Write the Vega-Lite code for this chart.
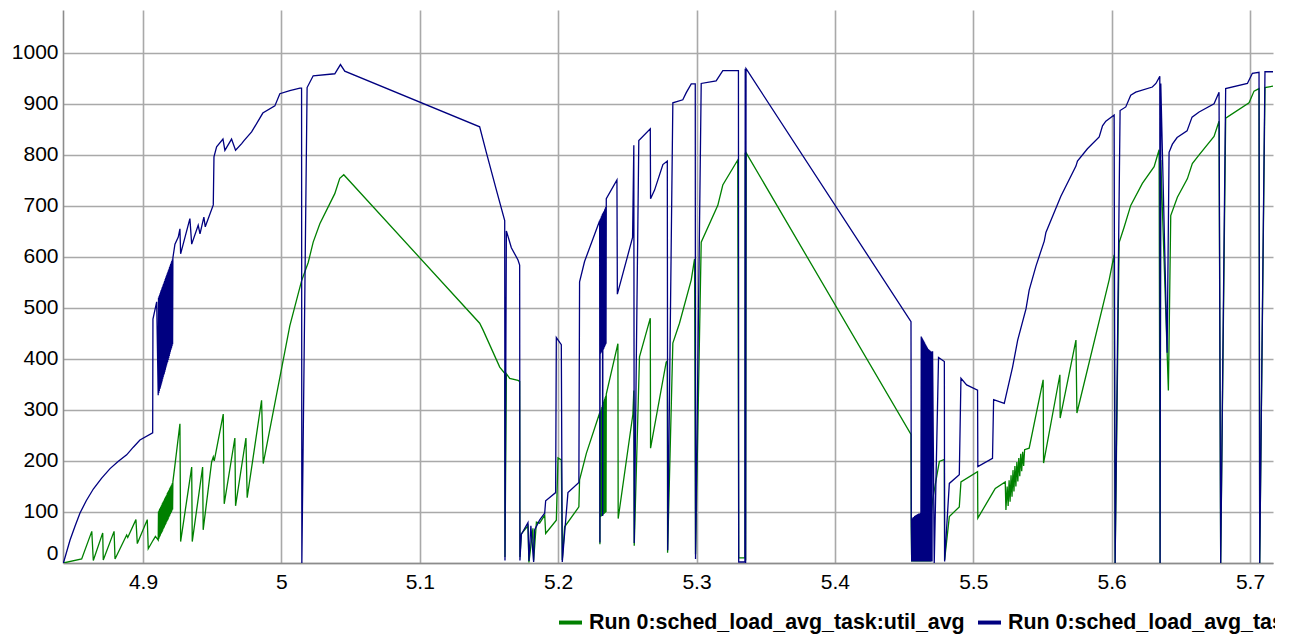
{
"$schema": "https://vega.github.io/schema/vega-lite/v6.json",
"width": 1210, "height": 553,
"autosize": "none",
"padding": {"left": 63, "top": 10, "right": 2, "bottom": 74},
"background": "white",
"config": {
 "view": {"stroke": null},
 "axis": {"labelFont": "Liberation Sans", "labelFontSize": 21, "labelColor": "#000", "gridColor": "#a9a9a9", "gridWidth": 1.6, "gridOpacity": 1, "domainColor": "#8c8c8c", "domainWidth": 1.6, "ticks": false, "title": null},
 "legend": {"orient": "none", "legendX": 494, "legendY": 599, "direction": "horizontal", "symbolType": "stroke", "symbolSize": 529, "symbolStrokeWidth": 4, "symbolOpacity": 1, "labelFont": "Liberation Sans", "labelFontWeight": "bold", "labelFontSize": 21.4, "labelColor": "#000", "labelLimit": 1000, "title": null, "columnPadding": 5, "labelOffset": 5, "padding": 0}
},
"datasets": {
 "util": [
{"x":4.8425,"v":0},{"x":4.8557,"v":8},{"x":4.8630,"v":62},{"x":4.8641,"v":5},{"x":4.8709,"v":59},{"x":4.8713,"v":6},{"x":4.8791,"v":62},{"x":4.8798,"v":8},{"x":4.8882,"v":55},{"x":4.8890,"v":50},{"x":4.8949,"v":85},{"x":4.8959,"v":38},{"x":4.9031,"v":85},{"x":4.9038,"v":28},{"x":4.9074,"v":45},{"x":4.9090,"v":52},
{"x":4.9110,"v":45},{"x":4.9112,"v":101},{"x":4.9114,"v":47},{"x":4.9116,"v":103},{"x":4.9118,"v":50},{"x":4.9120,"v":106},{"x":4.9122,"v":52},{"x":4.9124,"v":108},{"x":4.9126,"v":54},{"x":4.9128,"v":110},{"x":4.9130,"v":57},{"x":4.9132,"v":112},{"x":4.9134,"v":59},{"x":4.9136,"v":114},{"x":4.9138,"v":61},{"x":4.9140,"v":117},{"x":4.9142,"v":63},{"x":4.9144,"v":119},{"x":4.9146,"v":66},{"x":4.9148,"v":121},{"x":4.9150,"v":68},{"x":4.9152,"v":123},{"x":4.9154,"v":70},{"x":4.9156,"v":126},{"x":4.9158,"v":73},{"x":4.9160,"v":128},{"x":4.9162,"v":75},{"x":4.9164,"v":130},{"x":4.9166,"v":77},{"x":4.9168,"v":132},{"x":4.9170,"v":80},{"x":4.9172,"v":134},{"x":4.9174,"v":82},{"x":4.9176,"v":137},{"x":4.9178,"v":84},{"x":4.9180,"v":139},{"x":4.9182,"v":86},{"x":4.9184,"v":141},{"x":4.9186,"v":89},{"x":4.9188,"v":143},{"x":4.9190,"v":91},{"x":4.9192,"v":146},{"x":4.9194,"v":93},{"x":4.9196,"v":148},{"x":4.9198,"v":96},{"x":4.9200,"v":150},{"x":4.9202,"v":98},{"x":4.9204,"v":152},{"x":4.9206,"v":100},{"x":4.9208,"v":154},{"x":4.9210,"v":103},{"x":4.9212,"v":157},{"x":4.9214,"v":105},{"x":4.9216,"v":159},
{"x":4.9231,"v":192},{"x":4.9267,"v":273},{"x":4.9272,"v":42},{"x":4.9352,"v":188},{"x":4.9356,"v":42},{"x":4.9431,"v":188},{"x":4.9435,"v":65},{"x":4.9496,"v":198},{"x":4.9508,"v":208},{"x":4.9515,"v":200},{"x":4.9580,"v":292},{"x":4.9587,"v":116},{"x":4.9664,"v":245},{"x":4.9669,"v":112},{"x":4.9744,"v":245},{"x":4.9753,"v":128},{"x":4.9857,"v":319},{"x":4.9869,"v":195},
{"x":5.0061,"v":465},{"x":5.0146,"v":553},{"x":5.0194,"v":589},{"x":5.0230,"v":629},{"x":5.0278,"v":665},{"x":5.0386,"v":724},{"x":5.0422,"v":754},{"x":5.0451,"v":761},{"x":5.1433,"v":470},{"x":5.1457,"v":457},{"x":5.1578,"v":384},{"x":5.1614,"v":372},{"x":5.1616,"v":12},{"x":5.1626,"v":371},{"x":5.1650,"v":362},{"x":5.1710,"v":358},{"x":5.1722,"v":356},{"x":5.1724,"v":12},
{"x":5.1734,"v":57},{"x":5.1782,"v":73},{"x":5.1789,"v":1},{"x":5.1818,"v":68},{"x":5.1823,"v":5},{"x":5.1843,"v":80},{"x":5.1866,"v":78},{"x":5.1903,"v":94},{"x":5.1910,"v":58},{"x":5.1987,"v":84},{"x":5.1999,"v":206},{"x":5.2023,"v":202},{"x":5.2030,"v":6},{"x":5.2047,"v":71},{"x":5.2150,"v":110},{"x":5.2155,"v":163},{"x":5.2204,"v":215},{"x":5.2300,"v":294},
{"x":5.2302,"v":37},{"x":5.2304,"v":297},{"x":5.2306,"v":90},{"x":5.2308,"v":300},{"x":5.2310,"v":91},{"x":5.2312,"v":303},{"x":5.2314,"v":92},{"x":5.2316,"v":306},{"x":5.2318,"v":93},{"x":5.2320,"v":309},{"x":5.2322,"v":94},{"x":5.2324,"v":312},{"x":5.2326,"v":95},{"x":5.2328,"v":316},{"x":5.2330,"v":96},{"x":5.2332,"v":319},{"x":5.2334,"v":97},{"x":5.2336,"v":322},{"x":5.2338,"v":98},{"x":5.2340,"v":325},{"x":5.2342,"v":99},{"x":5.2344,"v":328},{"x":5.2346,"v":100},{"x":5.2348,"v":331},
{"x":5.2432,"v":430},{"x":5.2434,"v":87},{"x":5.2540,"v":291},{"x":5.2547,"v":338},{"x":5.2550,"v":34},{"x":5.2588,"v":404},{"x":5.2666,"v":480},{"x":5.2668,"v":225},{"x":5.2781,"v":394},{"x":5.2789,"v":396},{"x":5.2791,"v":20},{"x":5.2829,"v":431},{"x":5.2877,"v":470},{"x":5.2962,"v":555},{"x":5.2986,"v":596},{"x":5.2993,"v":17},{"x":5.3034,"v":629},{"x":5.3154,"v":701},{"x":5.3190,"v":741},{"x":5.3298,"v":790},{"x":5.3305,"v":10},{"x":5.3350,"v":10},{"x":5.3352,"v":804},{"x":5.3355,"v":5},{"x":5.3359,"v":804},
{"x":5.4550,"v":252},{"x":5.4552,"v":70},{"x":5.4555,"v":3},{"x":5.4558,"v":72},{"x":5.4561,"v":3},{"x":5.4564,"v":73},{"x":5.4567,"v":3},{"x":5.4570,"v":74},{"x":5.4573,"v":3},{"x":5.4576,"v":75},{"x":5.4579,"v":3},{"x":5.4582,"v":76},{"x":5.4585,"v":3},{"x":5.4588,"v":77},{"x":5.4591,"v":3},{"x":5.4594,"v":77},{"x":5.4597,"v":3},{"x":5.4600,"v":78},{"x":5.4603,"v":3},{"x":5.4606,"v":79},{"x":5.4609,"v":3},{"x":5.4612,"v":79},{"x":5.4615,"v":3},{"x":5.4618,"v":80},{"x":5.4621,"v":3},{"x":5.4624,"v":82},{"x":5.4628,"v":3},{"x":5.4632,"v":83},{"x":5.4636,"v":3},{"x":5.4640,"v":85},{"x":5.4644,"v":3},{"x":5.4648,"v":86},{"x":5.4652,"v":3},{"x":5.4656,"v":87},{"x":5.4660,"v":3},{"x":5.4664,"v":89},{"x":5.4668,"v":3},{"x":5.4672,"v":90},{"x":5.4676,"v":3},{"x":5.4680,"v":91},{"x":5.4684,"v":3},{"x":5.4688,"v":93},{"x":5.4692,"v":3},{"x":5.4696,"v":95},
{"x":5.4706,"v":124},{"x":5.4755,"v":199},{"x":5.4791,"v":203},{"x":5.4793,"v":6},{"x":5.4827,"v":91},{"x":5.4899,"v":110},{"x":5.4911,"v":159},{"x":5.5031,"v":179},{"x":5.5033,"v":88},{"x":5.5139,"v":137},{"x":5.5159,"v":146},{"x":5.5231,"v":159},{"x":5.5236,"v":104},
{"x":5.5245,"v":150},{"x":5.5252,"v":112},{"x":5.5259,"v":162},{"x":5.5266,"v":120},{"x":5.5273,"v":172},{"x":5.5280,"v":130},{"x":5.5287,"v":182},{"x":5.5294,"v":140},{"x":5.5301,"v":190},{"x":5.5308,"v":150},{"x":5.5315,"v":198},{"x":5.5322,"v":160},{"x":5.5329,"v":206},{"x":5.5336,"v":170},{"x":5.5343,"v":214},{"x":5.5350,"v":180},{"x":5.5357,"v":218},{"x":5.5364,"v":190},{"x":5.5371,"v":222},{"x":5.5404,"v":225},
{"x":5.5505,"v":359},{"x":5.5508,"v":196},{"x":5.5626,"v":369},{"x":5.5628,"v":284},{"x":5.5742,"v":437},{"x":5.5749,"v":294},{"x":5.5982,"v":555},{"x":5.6018,"v":604},{"x":5.6025,"v":0},{"x":5.6054,"v":628},{"x":5.6090,"v":658},{"x":5.6138,"v":701},{"x":5.6222,"v":744},{"x":5.6307,"v":777},{"x":5.6343,"v":810},{"x":5.6350,"v":0},{"x":5.6355,"v":790},{"x":5.6410,"v":338},{"x":5.6427,"v":681},{"x":5.6475,"v":717},{"x":5.6547,"v":753},{"x":5.6583,"v":783},{"x":5.6632,"v":800},{"x":5.6740,"v":836},{"x":5.6776,"v":866},{"x":5.6788,"v":0},{"x":5.6824,"v":872},{"x":5.6993,"v":902},{"x":5.7029,"v":925},{"x":5.7065,"v":930},{"x":5.7070,"v":0},{"x":5.7108,"v":932},{"x":5.7170,"v":935}
 ],
 "load": [
{"x":4.8425,"v":0},{"x":4.8473,"v":45},{"x":4.8510,"v":73},{"x":4.8545,"v":98},{"x":4.8590,"v":122},{"x":4.8641,"v":145},{"x":4.8700,"v":166},{"x":4.8762,"v":185},{"x":4.8820,"v":199},{"x":4.8882,"v":212},{"x":4.8930,"v":227},{"x":4.8978,"v":241},{"x":4.9070,"v":255},{"x":4.9072,"v":478},{"x":4.9099,"v":512},
{"x":4.9110,"v":329},{"x":4.9112,"v":520},{"x":4.9114,"v":333},{"x":4.9116,"v":523},{"x":4.9118,"v":337},{"x":4.9120,"v":526},{"x":4.9122,"v":341},{"x":4.9124,"v":529},{"x":4.9126,"v":344},{"x":4.9128,"v":532},{"x":4.9130,"v":348},{"x":4.9132,"v":535},{"x":4.9134,"v":352},{"x":4.9136,"v":538},{"x":4.9138,"v":356},{"x":4.9140,"v":541},{"x":4.9142,"v":360},{"x":4.9144,"v":544},{"x":4.9146,"v":364},{"x":4.9148,"v":547},{"x":4.9150,"v":368},{"x":4.9152,"v":550},{"x":4.9154,"v":371},{"x":4.9156,"v":553},{"x":4.9158,"v":375},{"x":4.9160,"v":556},{"x":4.9162,"v":379},{"x":4.9164,"v":559},{"x":4.9166,"v":383},{"x":4.9168,"v":562},{"x":4.9170,"v":387},{"x":4.9172,"v":565},{"x":4.9174,"v":391},{"x":4.9176,"v":568},{"x":4.9178,"v":394},{"x":4.9180,"v":571},{"x":4.9182,"v":398},{"x":4.9184,"v":574},{"x":4.9186,"v":402},{"x":4.9188,"v":577},{"x":4.9190,"v":406},{"x":4.9192,"v":580},{"x":4.9194,"v":410},{"x":4.9196,"v":583},{"x":4.9198,"v":414},{"x":4.9200,"v":586},{"x":4.9202,"v":418},{"x":4.9204,"v":589},{"x":4.9206,"v":421},{"x":4.9208,"v":592},{"x":4.9210,"v":425},{"x":4.9212,"v":595},{"x":4.9214,"v":429},{"x":4.9216,"v":598},
{"x":4.9231,"v":625},{"x":4.9255,"v":639},{"x":4.9267,"v":655},{"x":4.9272,"v":606},{"x":4.9339,"v":675},{"x":4.9352,"v":625},{"x":4.9399,"v":662},{"x":4.9412,"v":645},{"x":4.9440,"v":678},{"x":4.9450,"v":659},{"x":4.9508,"v":702},{"x":4.9513,"v":796},{"x":4.9532,"v":816},{"x":4.9578,"v":831},{"x":4.9592,"v":809},{"x":4.9640,"v":831},{"x":4.9669,"v":809},{"x":4.9713,"v":822},{"x":4.9730,"v":828},{"x":4.9785,"v":845},{"x":4.9866,"v":882},{"x":4.9953,"v":896},{"x":4.9989,"v":920},{"x":5.0061,"v":926},{"x":5.0134,"v":931},{"x":5.0146,"v":931},{"x":5.0148,"v":0},
{"x":5.0186,"v":932},{"x":5.0230,"v":955},{"x":5.0386,"v":959},{"x":5.0427,"v":977},{"x":5.0458,"v":964},{"x":5.1433,"v":855},{"x":5.1481,"v":805},{"x":5.1554,"v":731},{"x":5.1614,"v":671},{"x":5.1616,"v":5},{"x":5.1626,"v":651},{"x":5.1662,"v":618},{"x":5.1710,"v":594},{"x":5.1722,"v":584},{"x":5.1724,"v":5},
{"x":5.1734,"v":56},{"x":5.1782,"v":79},{"x":5.1789,"v":4},{"x":5.1803,"v":73},{"x":5.1823,"v":2},{"x":5.1830,"v":65},{"x":5.1866,"v":84},{"x":5.1903,"v":98},{"x":5.1910,"v":122},{"x":5.1982,"v":138},{"x":5.1987,"v":442},{"x":5.2023,"v":428},{"x":5.2030,"v":2},{"x":5.2071,"v":138},{"x":5.2150,"v":158},{"x":5.2155,"v":551},{"x":5.2191,"v":591},{"x":5.2300,"v":671},
{"x":5.2302,"v":40},{"x":5.2304,"v":674},{"x":5.2306,"v":410},{"x":5.2308,"v":676},{"x":5.2310,"v":412},{"x":5.2312,"v":679},{"x":5.2314,"v":414},{"x":5.2316,"v":681},{"x":5.2318,"v":416},{"x":5.2320,"v":684},{"x":5.2322,"v":92},{"x":5.2324,"v":686},{"x":5.2326,"v":418},{"x":5.2328,"v":688},{"x":5.2330,"v":420},{"x":5.2332,"v":690},{"x":5.2334,"v":423},{"x":5.2336,"v":693},{"x":5.2338,"v":425},{"x":5.2340,"v":695},{"x":5.2342,"v":428},{"x":5.2344,"v":698},{"x":5.2346,"v":430},{"x":5.2348,"v":714},
{"x":5.2425,"v":751},{"x":5.2428,"v":527},{"x":5.2538,"v":638},{"x":5.2547,"v":819},{"x":5.2550,"v":39},{"x":5.2583,"v":828},{"x":5.2666,"v":851},{"x":5.2668,"v":714},{"x":5.2697,"v":731},{"x":5.2757,"v":781},{"x":5.2789,"v":788},{"x":5.2792,"v":25},{"x":5.2829,"v":902},{"x":5.2901,"v":908},{"x":5.2926,"v":922},{"x":5.2962,"v":939},{"x":5.2991,"v":939},{"x":5.2993,"v":8},{"x":5.3034,"v":940},{"x":5.3142,"v":945},{"x":5.3190,"v":965},{"x":5.3303,"v":965},{"x":5.3305,"v":2},{"x":5.3350,"v":2},{"x":5.3352,"v":969},{"x":5.3355,"v":0},{"x":5.3358,"v":969},{"x":5.3363,"v":967},
{"x":5.4550,"v":473},{"x":5.4552,"v":84},{"x":5.4555,"v":3},{"x":5.4558,"v":87},{"x":5.4561,"v":3},{"x":5.4564,"v":89},{"x":5.4567,"v":3},{"x":5.4570,"v":90},{"x":5.4573,"v":3},{"x":5.4576,"v":92},{"x":5.4579,"v":3},{"x":5.4582,"v":93},{"x":5.4585,"v":3},{"x":5.4588,"v":94},{"x":5.4591,"v":3},{"x":5.4594,"v":95},{"x":5.4597,"v":3},{"x":5.4600,"v":96},{"x":5.4603,"v":3},{"x":5.4606,"v":97},{"x":5.4609,"v":3},{"x":5.4612,"v":97},{"x":5.4615,"v":3},{"x":5.4618,"v":98},{"x":5.4621,"v":3},
{"x":5.4624,"v":444},{"x":5.4626,"v":3},{"x":5.4628,"v":442},{"x":5.4630,"v":3},{"x":5.4632,"v":440},{"x":5.4634,"v":3},{"x":5.4636,"v":438},{"x":5.4638,"v":3},{"x":5.4640,"v":436},{"x":5.4642,"v":3},{"x":5.4644,"v":434},{"x":5.4646,"v":3},{"x":5.4648,"v":432},{"x":5.4650,"v":3},{"x":5.4652,"v":430},{"x":5.4654,"v":3},{"x":5.4656,"v":428},{"x":5.4658,"v":3},{"x":5.4660,"v":426},{"x":5.4662,"v":3},{"x":5.4664,"v":424},{"x":5.4666,"v":3},{"x":5.4668,"v":422},{"x":5.4670,"v":3},{"x":5.4672,"v":420},{"x":5.4674,"v":3},{"x":5.4676,"v":419},{"x":5.4678,"v":3},{"x":5.4680,"v":418},{"x":5.4682,"v":3},{"x":5.4684,"v":417},{"x":5.4686,"v":3},{"x":5.4688,"v":416},{"x":5.4690,"v":3},{"x":5.4692,"v":415},{"x":5.4694,"v":3},{"x":5.4696,"v":414},{"x":5.4698,"v":3},{"x":5.4700,"v":414},{"x":5.4702,"v":3},{"x":5.4704,"v":414},{"x":5.4706,"v":414},
{"x":5.4718,"v":0},{"x":5.4749,"v":403},{"x":5.4791,"v":395},{"x":5.4793,"v":3},{"x":5.4827,"v":156},{"x":5.4899,"v":173},{"x":5.4911,"v":362},{"x":5.4952,"v":349},{"x":5.5031,"v":339},{"x":5.5033,"v":189},{"x":5.5139,"v":205},{"x":5.5147,"v":320},{"x":5.5224,"v":313},{"x":5.5236,"v":327},
{"x":5.5284,"v":384},{"x":5.5321,"v":437},{"x":5.5381,"v":498},{"x":5.5404,"v":535},{"x":5.5453,"v":582},{"x":5.5513,"v":631},{"x":5.5525,"v":648},{"x":5.5633,"v":719},{"x":5.5742,"v":778},{"x":5.5753,"v":788},{"x":5.5825,"v":812},{"x":5.5910,"v":835},{"x":5.5934,"v":857},{"x":5.5958,"v":866},{"x":5.6018,"v":878},{"x":5.6025,"v":0},
{"x":5.6061,"v":887},{"x":5.6102,"v":894},{"x":5.6138,"v":917},{"x":5.6174,"v":923},{"x":5.6294,"v":933},{"x":5.6320,"v":940},{"x":5.6348,"v":954},{"x":5.6350,"v":0},{"x":5.6355,"v":940},{"x":5.6401,"v":412},{"x":5.6415,"v":805},{"x":5.6439,"v":821},{"x":5.6473,"v":834},{"x":5.6545,"v":847},{"x":5.6581,"v":874},{"x":5.6632,"v":884},{"x":5.6740,"v":900},{"x":5.6776,"v":923},{"x":5.6788,"v":0},{"x":5.6824,"v":930},{"x":5.6981,"v":940},{"x":5.7017,"v":960},{"x":5.7065,"v":962},{"x":5.7070,"v":0},{"x":5.7108,"v":963},{"x":5.7170,"v":963}
 ]
},
"encoding": {
 "x": {"field": "x", "type": "quantitative", "scale": {"domain": [4.8422, 5.7166], "nice": false, "zero": false},
   "axis": {"values": [4.9, 5.0, 5.1, 5.2, 5.3, 5.4, 5.5, 5.6, 5.7], "format": "~g", "grid": true, "labelPadding": 8}},
 "y": {"field": "v", "type": "quantitative", "scale": {"domain": [0, 1084], "nice": false},
   "axis": {"values": [0, 100, 200, 300, 400, 500, 600, 700, 800, 900, 1000], "format": "d", "grid": true, "labelPadding": 5, "labelFlush": true}}
},
"layer": [
 {"data": {"name": "util"}, "mark": {"type": "line", "strokeWidth": 1.3, "clip": true},
  "encoding": {"color": {"datum": "Run 0:sched_load_avg_task:util_avg", "type": "nominal",
    "scale": {"domain": ["Run 0:sched_load_avg_task:util_avg", "Run 0:sched_load_avg_task:load_avg"], "range": ["#008000", "#000080"]}}}},
 {"data": {"name": "load"}, "mark": {"type": "line", "strokeWidth": 1.3, "clip": true},
  "encoding": {"color": {"datum": "Run 0:sched_load_avg_task:load_avg", "type": "nominal",
    "scale": {"domain": ["Run 0:sched_load_avg_task:util_avg", "Run 0:sched_load_avg_task:load_avg"], "range": ["#008000", "#000080"]}}}}
]
}
